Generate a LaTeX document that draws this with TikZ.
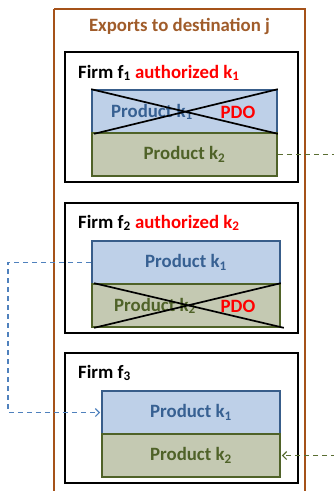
\documentclass[tikz,border=0pt]{standalone}
\usepackage{fontspec}
\setmainfont{Carlito}
\usetikzlibrary{arrows.meta}
\definecolor{brownbox}{RGB}{165,82,25}
\definecolor{browntxt}{RGB}{160,92,42}
\definecolor{bluefill}{RGB}{190,208,232}
\definecolor{blueline}{RGB}{56,93,138}
\definecolor{bluetxt}{RGB}{55,96,146}
\definecolor{greenfill}{RGB}{196,201,178}
\definecolor{greenline}{RGB}{79,98,40}
\definecolor{bluedash}{RGB}{79,129,189}
\definecolor{greendash}{RGB}{90,110,50}
\begin{document}
\begin{tikzpicture}[x=1pt,y=-1pt,
  every node/.style={font=\fontsize{18.8}{21}\selectfont\bfseries},
  outerbox/.style={draw=brownbox, line width=2pt},
  firmbox/.style={draw=black, line width=2.2pt, minimum width=233pt, minimum height=130pt, inner sep=0pt},
  prodA/.style={draw=blueline, line width=1.6pt, fill=bluefill, minimum height=43pt, inner sep=0pt},
  prodB/.style={draw=greenline, line width=1.6pt, fill=greenfill, minimum height=43pt, inner sep=0pt},
  crossline/.style={draw=black, line width=1.7pt},
  bluelab/.style={text=bluetxt},
  greenlab/.style={text=greenline},
  redlab/.style={text=red},
  firmlab/.style={anchor=base west, inner sep=0pt},
  bluecon/.style={draw=bluedash, line width=1.2pt, dash pattern=on 5pt off 4pt},
  greencon/.style={draw=greendash, line width=1.2pt, dash pattern=on 5pt off 4pt},
  tip/.style={-{Straight Barb[length=4pt,width=8pt]}}
]
\useasboundingbox (0,0) rectangle (334,491);
% outer box
\draw[outerbox] (54,9) -- (305,9) -- (305,500) (54,500) -- (54,9);
\node[text=browntxt, anchor=base, inner sep=0pt] (title) at (179.5,31) {Exports to destination j};

% Firm 1
\node[firmbox] (F1) at (181.5,117) {};
\node[firmlab] (F1l) at (78,78) {Firm f\textsubscript{1} \textcolor{red}{authorized k\textsubscript{1}}};
\node[prodA, minimum width=185pt] (P1a) at (184.5,111.5) {};
\node[prodB, minimum width=185pt] (P1b) at (184.5,154.5) {};
\node[bluelab] (P1at) at (152,112) {Product k\textsubscript{1}};
\node[redlab] (P1ap) at (238,112) {PDO};
\node[greenlab] (P1bt) at (P1b) {Product k\textsubscript{2}};
\draw[crossline] (P1a.north west) -- (P1a.south east);
\draw[crossline] (P1a.north east) -- ([xshift=3pt]P1a.south west);

% Firm 2
\node[firmbox] (F2) at (181.5,268) {};
\node[firmlab] (F2l) at (78,228) {Firm f\textsubscript{2} \textcolor{red}{authorized k\textsubscript{2}}};
\node[prodA, minimum width=188pt] (P2a) at (186,262.5) {};
\node[prodB, minimum width=188pt] (P2b) at (186,305.5) {};
\node[bluelab] (P2at) at (P2a) {Product k\textsubscript{1}};
\node[greenlab] (P2bt) at (155,306) {Product k\textsubscript{2}};
\node[redlab] (P2bp) at (238,306) {PDO};
\draw[crossline] ([xshift=3pt]P2b.north west) -- ([xshift=3pt]P2b.south east);
\draw[crossline] (P2b.north east) -- ([xshift=3pt]P2b.south west);

% Firm 3
\node[firmbox] (F3) at (181.5,418) {};
\node[firmlab] (F3l) at (78,378) {Firm f\textsubscript{3}};
\node[prodA, minimum width=178pt] (P3a) at (191,412.5) {};
\node[prodB, minimum width=178pt] (P3b) at (191,455.5) {};
\node[bluelab] (P3at) at (P3a) {Product k\textsubscript{1}};
\node[greenlab] (P3bt) at (P3b) {Product k\textsubscript{2}};

% connectors
\coordinate (g1) at (336,154.5);
\coordinate (g2) at (336,455.5);
\coordinate (b1) at (8,262.5);
\coordinate (b2) at (8,412.5);
\draw[greencon] (P1b.east) -- (g1);
\draw[bluecon, tip] (P2a.west) -- (b1) -- (b2) -- ([xshift=-1pt]P3a.west);
\draw[greencon, tip] (g2) -- ([xshift=1pt]P3b.east);
\end{tikzpicture}
\end{document}
